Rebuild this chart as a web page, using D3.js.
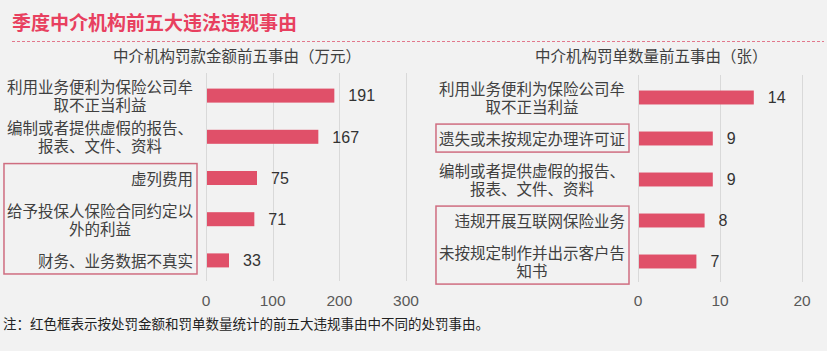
<!DOCTYPE html>
<html>
<head>
<meta charset="utf-8">
<script src="https://cdn.jsdelivr.net/npm/d3@7"></script>
<style>
  body { margin: 0; background: #f2f2f2; }
  svg { display: block; font-family: "Noto Sans CJK SC", "Noto Sans", sans-serif; }
</style>
</head>
<body>
<svg id="chart"></svg>
<script>
const titleText = '季度中介机构前五大违法违规事由';
const noteText = '注：红色框表示按处罚金额和罚单数量统计的前五大违规事由中不同的处罚事由。';

// left chart: fines (万元)
const fineTitle = '中介机构罚款金额前五事由（万元）';
const fineCats = ['利用业务便利为保险公司牟取不正当利益', '编制或者提供虚假的报告、报表、文件、资料', '虚列费用', '给予投保人保险合同约定以外的利益', '财务、业务数据不真实'];
const fineValues = [191, 167, 75, 71, 33];
const fineTicks = [0, 100, 200, 300];
const fineBoxes = [[2, 4]];

// right chart: number of tickets (张)
const countTitle = '中介机构罚单数量前五事由（张）';
const countCats = ['利用业务便利为保险公司牟取不正当利益', '遗失或未按规定办理许可证', '编制或者提供虚假的报告、报表、文件、资料', '违规开展互联网保险业务', '未按规定制作并出示客户告知书'];
const countValues = [14, 9, 9, 8, 7];
const countTicks = [0, 10, 20];
const countBoxes = [[1, 1], [3, 4]];

const width = 827, height = 351;
const barColor = '#e05069';
const titleColor = '#e8405f';
const boxColor = '#cf6d80';
const textColor = '#404040';

const svg = d3.select('#chart')
    .attr('width', width)
    .attr('height', height);

svg.append('rect')
    .attr('width', width)
    .attr('height', height)
    .style('fill', '#f2f2f2');

// title + dashed rule
svg.append('text')
    .attr('x', 12)
    .attr('y', 30)
    .style('font-size', '19px')
    .style('font-weight', 'bold')
    .style('fill', titleColor)
    .text(titleText);

svg.append('line')
    .attr('x1', 12)
    .attr('x2', 824)
    .attr('y1', 41.5)
    .attr('y2', 41.5)
    .style('stroke', '#e2788c')
    .style('stroke-dasharray', '3,2');

// wrap labels at 12 characters
function wrap(s) {
    const lines = [];
    for (let i = 0; i < s.length; i += 12) lines.push(s.slice(i, i + 12));
    return lines;
}

function drawPanel(opts) {
    const g = svg.append('g');

    const xScale = d3.scaleLinear()
        .domain(opts.domain)
        .range(opts.xRange);

    const yScale = d3.scaleBand()
        .domain(opts.cats)
        .range(opts.yRange)
        .paddingInner(0.66)
        .paddingOuter(0.33);

    // subtitle
    g.append('text')
        .attr('x', opts.titleX)
        .attr('y', 62)
        .style('font-size', '15.5px')
        .style('fill', textColor)
        .text(opts.title);

    // gridlines
    g.selectAll('.grid')
        .data(opts.ticks)
        .join('line')
        .attr('x1', d => Math.round(xScale(d)) + 0.5)
        .attr('x2', d => Math.round(xScale(d)) + 0.5)
        .attr('y1', opts.yRange[0] - 2)
        .attr('y2', opts.yRange[1])
        .style('stroke', '#d9d9d9');

    // x axis labels
    g.selectAll('.tick-label')
        .data(opts.ticks)
        .join('text')
        .attr('x', d => xScale(d))
        .attr('y', 306)
        .attr('text-anchor', 'middle')
        .style('font-size', '15.5px')
        .style('font-family', 'Arial, "Liberation Sans", sans-serif')
        .style('fill', '#595959')
        .text(d => d);

    // bars
    g.selectAll('.bar')
        .data(opts.values)
        .join('rect')
        .attr('x', xScale(0) + 1)
        .attr('y', (d, i) => yScale(opts.cats[i]))
        .attr('width', d => xScale(d) - xScale(0))
        .attr('height', yScale.bandwidth())
        .style('fill', barColor);

    // value labels
    g.selectAll('.value')
        .data(opts.values)
        .join('text')
        .attr('x', d => xScale(d) + 15)
        .attr('y', (d, i) => yScale(opts.cats[i]) + yScale.bandwidth() / 2)
        .attr('dy', '0.36em')
        .style('font-size', '16px')
        .style('font-family', 'Arial, "Liberation Sans", sans-serif')
        .style('fill', '#333')
        .text(d => d);

    // category labels, wrapped and right aligned as a block
    const labelRight = xScale(0) - 13;
    const labelBoxes = [];
    opts.cats.forEach((c, i) => {
        const lines = wrap(c);
        const cy = yScale(c) + yScale.bandwidth() / 2 + 1;
        const t = g.append('text')
            .style('font-size', '15.5px')
            .style('fill', textColor)
            .attr('text-anchor', 'middle');
        lines.forEach((ln, j) => {
            t.append('tspan')
                .attr('y', cy + (j - (lines.length - 1) / 2) * 18)
                .attr('dy', '0.36em')
                .text(ln);
        });
        let w = 0;
        t.selectAll('tspan').each(function () {
            w = Math.max(w, this.getComputedTextLength());
        });
        t.selectAll('tspan').attr('x', labelRight - w / 2);
        labelBoxes.push(t.node().getBBox());
    });

    // red boxes around labels that differ between the two rankings
    opts.boxes.forEach(([a, b]) => {
        const bs = labelBoxes.slice(a, b + 1);
        const x0 = d3.min(bs, d => d.x) - 3;
        const x1 = d3.max(bs, d => d.x + d.width) + 4;
        const y0 = d3.min(bs, d => d.y) - 3;
        const y1 = d3.max(bs, d => d.y + d.height) + 3;
        g.append('rect')
            .attr('x', x0)
            .attr('y', y0)
            .attr('width', x1 - x0)
            .attr('height', y1 - y0)
            .style('fill', 'none')
            .style('stroke', boxColor)
            .style('stroke-width', 1.5);
    });
}

drawPanel({
    title: fineTitle, titleX: 113,
    cats: fineCats, values: fineValues, ticks: fineTicks, boxes: fineBoxes,
    domain: [0, 300], xRange: [206, 406], yRange: [75, 281]
});

drawPanel({
    title: countTitle, titleX: 535,
    cats: countCats, values: countValues, ticks: countTicks, boxes: countBoxes,
    domain: [0, 20], xRange: [638, 802], yRange: [77, 282]
});

// footnote
svg.append('text')
    .attr('x', 3)
    .attr('y', 329)
    .style('font-size', '13.5px')
    .style('fill', '#222')
    .text(noteText);
</script>
</body>
</html>
